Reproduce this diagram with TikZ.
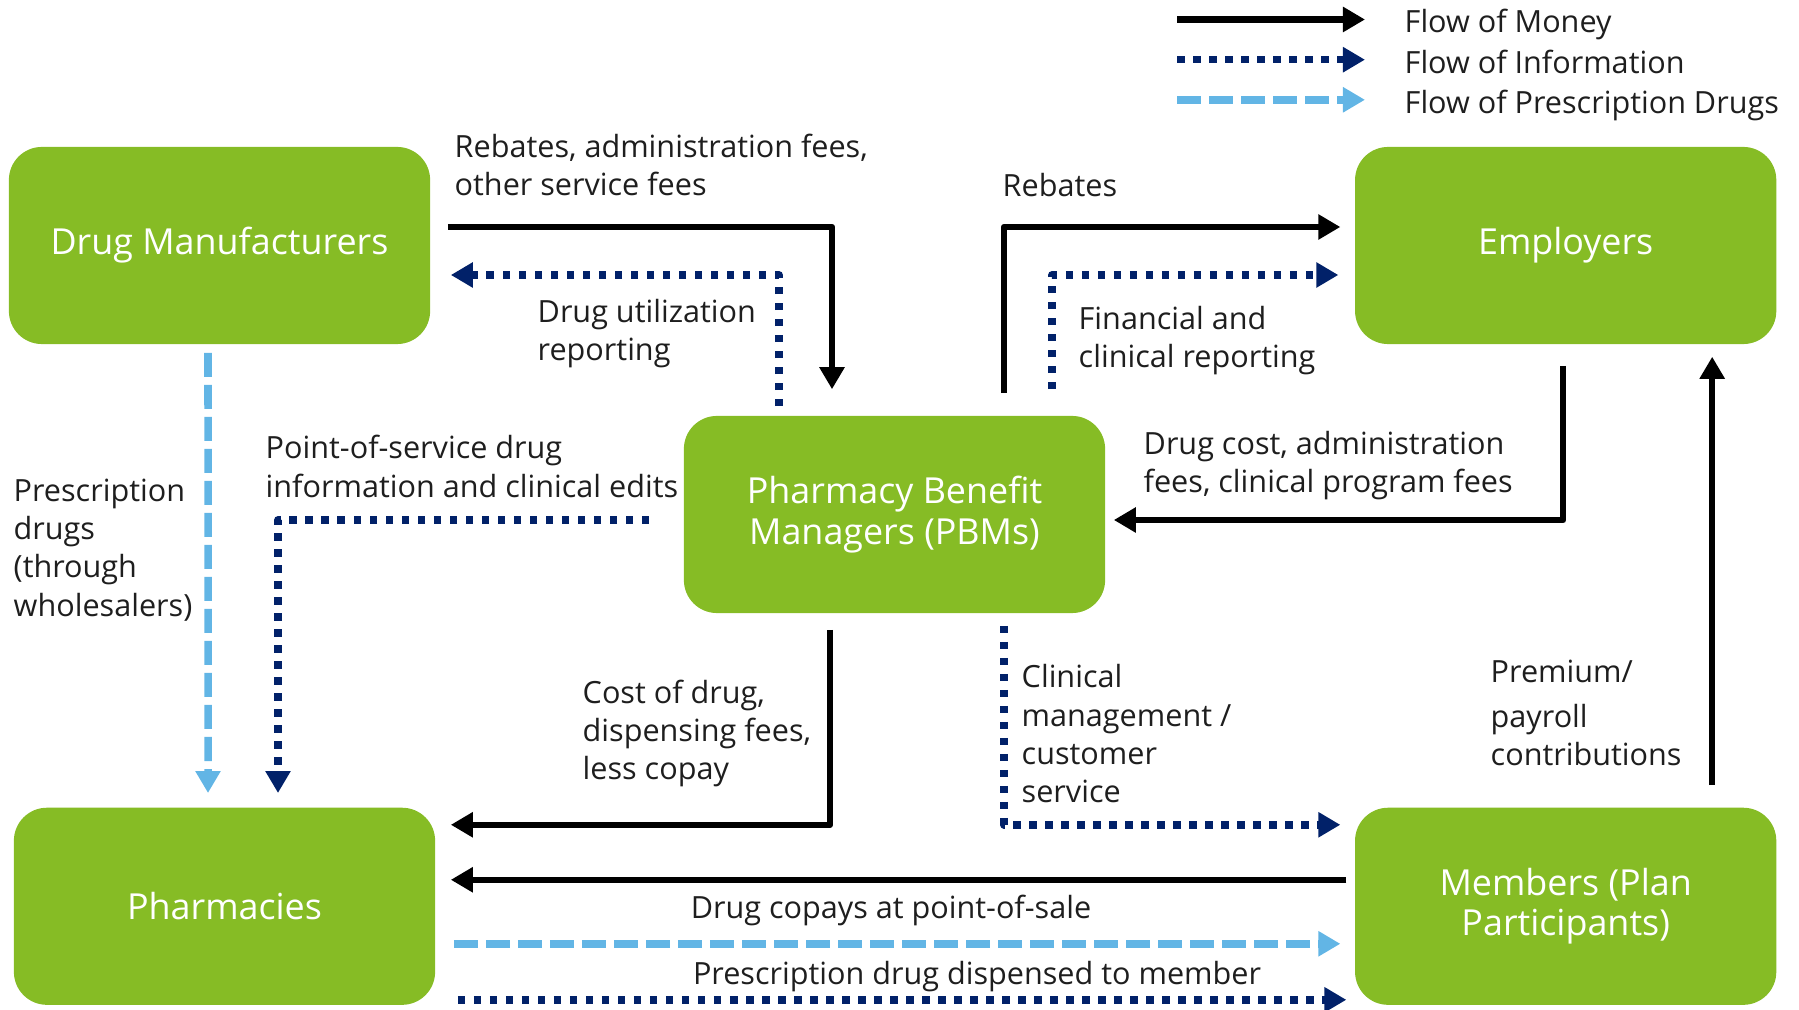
\documentclass[tikz,border=0pt]{standalone}
\usepackage{fontspec}
\setmainfont{Open Sans}
\usetikzlibrary{arrows.meta, positioning, calc}

\definecolor{boxgreen}{RGB}{134,188,37}
\definecolor{infoblue}{RGB}{1,33,105}
\definecolor{druglblue}{RGB}{98,181,229}
\definecolor{labelgray}{RGB}{30,30,30}

\begin{document}
\begin{tikzpicture}[x=0.01cm, y=-0.01cm,
	box/.style={fill=boxgreen, rounded corners=0.33cm, minimum width=4.21cm, minimum height=1.97cm,
		text=white, align=center, font=\fontsize{10.2}{11.6}\selectfont},
	lbl/.style={anchor=west, inner sep=0pt, align=left, text=labelgray, font=\fontsize{8.7}{10.9}\selectfont},
	flowtip/.style={-{Triangle[length=0.22cm, width=0.24cm]}, line join=round},
	money/.style={flowtip, draw=black, line width=0.065cm},
	info/.style={flowtip, draw=infoblue, line width=0.075cm, dash pattern=on 0.075cm off 0.085cm},
	drug/.style={flowtip, draw=druglblue, line width=0.075cm, dash pattern=on 0.24cm off 0.08cm}]
	\useasboundingbox (0,0) rectangle (1799,1010);

	% the five parties
	\node[box] (dm) at (219.5,245.5) {Drug Manufacturers};
	\node[box, right=9.23cm of dm] (emp) {Employers};
	\node[box] (pbm) at (894.5,514.5) {Pharmacy Benefit\\Managers (PBMs)};
	\node[box, below=4.62cm of dm, xshift=0.05cm] (ph) {Pharmacies};
	\node[box, below=4.62cm of emp] (mem) {Members (Plan\\Participants)};

	% legend
	\node[lbl] (lgmoney) at (1404,24) {Flow of Money};
	\node[lbl] (lginfo) at (1404,62) {Flow of Information};
	\node[lbl] (lgdrug) at (1404,105.8) {Flow of Prescription Drugs};
	\draw[money] ($(lgmoney.west)+(-227,-4.5)$) -- ($(lgmoney.west)+(-39,-4.5)$);
	\draw[info] ($(lginfo.west)+(-227,-2.3)$) -- ($(lginfo.west)+(-39,-2.3)$);
	\draw[drug] ($(lgdrug.west)+(-227,-6)$) -- ($(lgdrug.west)+(-39,-6)$);

	% manufacturers <-> PBM
	\draw[money] ($(dm.east)+(17,-18.5)$) -| ($(pbm.north)+(-62.5,-26)$);
	\draw[info] ($(pbm.north)+(-115.5,-9)$) |- ($(dm.east)+(20,29.5)$);
	\node[lbl] (l1) at (454,165) {Rebates, administration fees,\\other service fees};
	\node[lbl] (l2) at (537,333.5) {Drug utilization\\reporting};

	% PBM <-> employers
	\draw[money] ($(pbm.north)+(109.5,-22)$) |- ($(emp.west)+(-14,-18.5)$);
	\draw[info] ($(pbm.north)+(157.5,-26)$) |- ($(emp.west)+(-16,29.5)$);
	\draw[money] ($(emp.south)+(-2.5,21)$) |- ($(pbm.east)+(8,5.5)$);
	\node[lbl] (l3) at (1002,185) {Rebates};
	\node[lbl] (l4) at (1078,340.5) {Financial and\\clinical reporting};
	\node[lbl] (l5) at (1143,465.5) {Drug cost, administration\\fees, clinical program fees};

	% manufacturers / PBM -> pharmacies
	\draw[drug] ($(dm.south)+(-11.5,8)$) -- ($(ph.north)+(-16.5,-14)$);
	\draw[info] ($(pbm.west)+(-34,5.5)$) -| ($(ph.north)+(53.5,-14)$);
	\draw[money] ($(pbm.south)+(-64.5,16)$) |- ($(ph.east)+(15,-81.5)$);
	\node[lbl] (l6) at (13,550) {Prescription\\drugs\\(through\\wholesalers)};
	\node[lbl] (l7) at (265,466.5) {Point-of-service drug\\information and clinical edits};
	\node[lbl] (l8) at (582,733.5) {Cost of drug,\\dispensing fees,\\less copay};

	% PBM / members / employers
	\draw[info] ($(pbm.south)+(109.5,12)$) |- ($(mem.west)+(-14,-81.5)$);
	\draw[money] ($(mem.north)+(146.5,-22)$) -- ($(emp.south)+(146.5,12)$);
	\node[lbl] (l9) at (1021,734) {Clinical\\management /\\customer\\service};
	\node[lbl] (l10) at (1490,713) {Premium/\\[0.06cm]payroll\\contributions};

	% pharmacies <-> members
	\draw[money] ($(mem.west)+(-8,-26.5)$) -- ($(ph.east)+(15,-26.5)$);
	\draw[drug] ($(ph.east)+(18,37.5)$) -- ($(mem.west)+(-14,37.5)$);
	\draw[info] ($(ph.east)+(22,93.5)$) -- ($(mem.west)+(-8,93.5)$);
	\node[lbl, anchor=center] (l11) at (891,910.5) {Drug copays at point-of-sale};
	\node[lbl, anchor=center] (l12) at (977,976.5) {Prescription drug dispensed to member};
\end{tikzpicture}
\end{document}
